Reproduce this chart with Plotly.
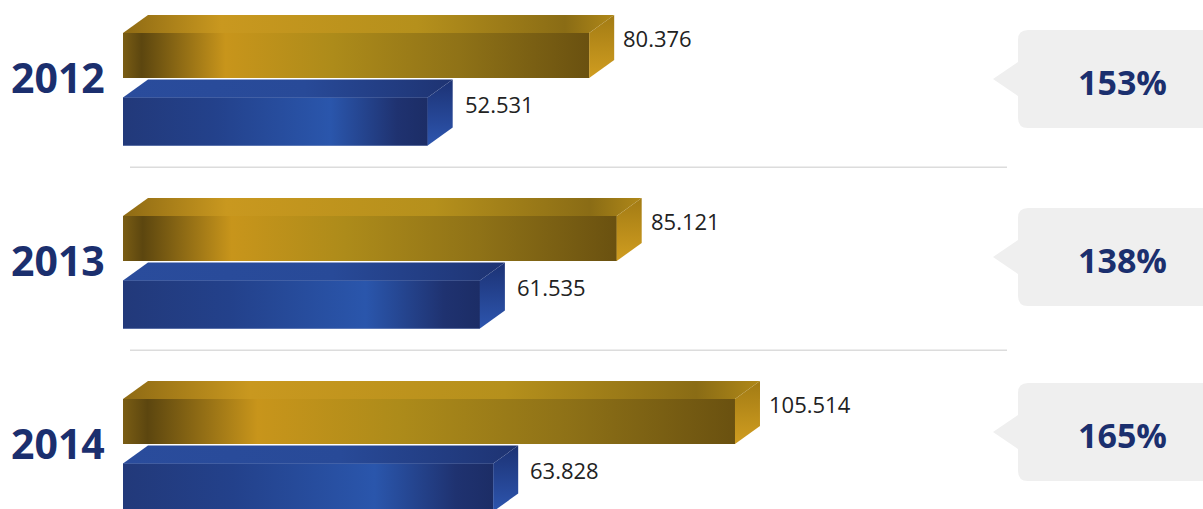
import plotly.graph_objects as go

# ---------------- data ----------------
years = ["2012", "2013", "2014"]
gold_values = [80.376, 85.121, 105.514]
blue_values = [52.531, 61.535, 63.828]
gold_labels = ["80.376", "85.121", "105.514"]
blue_labels = ["52.531", "61.535", "63.828"]
ratio_labels = ["153%", "138%", "165%"]

# ---------------- layout constants (pixels) ----------------
W, H = 1203, 509
X0 = 123.0      # pixel of value 0
KX = 5.8        # pixels per value unit
G0 = 55.5       # pixel y of first gold bar centre
GS = 183.0      # pixel spacing between groups
GOLD_W = 45 / GS
BLUE_W = 48 / GS
BLUE_OFF = 66 / GS
DX = 25 / KX    # 3D depth in value units
DY = 18 / GS    # 3D depth in group units
BOX_CY = [79, 257, 432]

NAVY = "#1b2f6e"

def px(xp):
    return xp / W

def py(yp):
    return 1 - yp / H

fig = go.Figure()

gold_front = [[0, "#7a5d14"], [0.04, "#5c460f"], [0.22, "#c8951b"], [0.45, "#ad8b1a"],
              [0.72, "#8f7217"], [1, "#6a5110"]]
gold_top = [[0, "#8e6a14"], [0.2, "#c9981f"], [0.6, "#b5901c"], [0.9, "#8a6c15"], [1, "#b08818"]]
gold_side = [[0, "#d09d20"], [1, "#a27b14"]]
blue_front = [[0, "#22397a"], [0.3, "#23418b"], [0.68, "#2a56ac"], [0.9, "#1f3270"], [1, "#1c2d66"]]
blue_top = [[0, "#2a4c9c"], [0.55, "#284a98"], [1, "#1e3372"]]
blue_side = [[0, "#2d55ae"], [1, "#1c3274"]]


def add_bar3d(values, yoff, width, front, top, side, solid, name):
    ys = [i + yoff for i in range(len(values))]
    fig.add_trace(go.Bar(x=values, y=ys, orientation="h", width=width, base=0,
                         marker=dict(color=solid, line=dict(width=0)), name=name,
                         showlegend=False, hoverinfo="skip"))
    for v, yc in zip(values, ys):
        yt = yc - width / 2
        yb = yc + width / 2
        # front gradient overlay
        fig.add_trace(go.Scatter(x=[0, v, v, 0, 0], y=[yt, yt, yb, yb, yt], fill="toself",
                                 mode="lines", line=dict(width=0),
                                 fillgradient=dict(type="horizontal", colorscale=front),
                                 showlegend=False, hoverinfo="skip"))
        # top face
        fig.add_trace(go.Scatter(x=[0, v, v + DX, DX, 0], y=[yt, yt, yt - DY, yt - DY, yt],
                                 fill="toself", mode="lines", line=dict(width=0),
                                 fillgradient=dict(type="horizontal", colorscale=top),
                                 showlegend=False, hoverinfo="skip"))
        # side face
        fig.add_trace(go.Scatter(x=[v, v + DX, v + DX, v, v], y=[yt, yt - DY, yb - DY, yb, yt],
                                 fill="toself", mode="lines", line=dict(width=0),
                                 fillgradient=dict(type="vertical", colorscale=side),
                                 showlegend=False, hoverinfo="skip"))


add_bar3d(gold_values, 0, GOLD_W, gold_front, gold_top, gold_side, "#a8861a", "gold")
add_bar3d(blue_values, BLUE_OFF, BLUE_W, blue_front, blue_top, blue_side, "#25469a", "blue")

annotations = []
for i, (v, lab) in enumerate(zip(gold_values, gold_labels)):
    annotations.append(dict(x=v + DX + 7 / KX, y=i - DY, xref="x", yref="y", text=lab,
                            showarrow=False, xanchor="left", yanchor="middle",
                            font=dict(family="Open Sans", size=22, color="#222222")))
for i, (v, lab) in enumerate(zip(blue_values, blue_labels)):
    annotations.append(dict(x=v + DX + 10 / KX, y=i + BLUE_OFF - DY, xref="x", yref="y", text=lab,
                            showarrow=False, xanchor="left", yanchor="middle",
                            font=dict(family="Open Sans", size=22, color="#222222")))
for i, yr in enumerate(years):
    annotations.append(dict(x=px(58), y=i + 0.12, xref="paper", yref="y", text="<b>%s</b>" % yr,
                            showarrow=False, xanchor="center", yanchor="middle",
                            font=dict(family="Open Sans", size=41, color=NAVY)))

shapes = []
# separators
for i in range(len(years) - 1):
    ysep = i + 0.61
    shapes.append(dict(type="line", xref="paper", yref="y", x0=px(130), x1=px(1007), y0=ysep, y1=ysep,
                       line=dict(color="#dcdcdc", width=1.5), layer="below"))

# ratio call-out boxes
for cy, lab in zip(BOX_CY, ratio_labels):
    x0, x1, y0, y1, r = 1018, 1225, cy - 49, cy + 49, 10
    path = ("M {a},{b} L {c},{b} L {c},{d} L {a},{d} Q {e},{d} {e},{f} L {e},{g} L {tip},{cy} L {e},{h} "
            "L {e},{i} Q {e},{b} {a},{b} Z")
    pts = dict(a=px(x0 + r), b=py(y0), c=px(x1), d=py(y1), e=px(x0), f=py(y1 - r),
               g=py(cy + 17), cy=py(cy), h=py(cy - 17), i=py(y0 + r), tip=px(993))
    path = path.format(**pts)
    shapes.append(dict(type="path", xref="paper", yref="paper", path=path,
                       fillcolor="#efefef", line=dict(width=0), layer="below"))
    annotations.append(dict(x=px(1122), y=py(cy + 3), xref="paper", yref="paper",
                            text="<b>%s</b>" % lab, showarrow=False, xanchor="center", yanchor="middle",
                            font=dict(family="Open Sans", size=34, color=NAVY)))

fig.update_layout(
    width=W, height=H,
    margin=dict(l=0, r=0, t=0, b=0),
    paper_bgcolor="white", plot_bgcolor="white",
    xaxis=dict(range=[-X0 / KX, (W - X0) / KX], visible=False, fixedrange=True),
    yaxis=dict(range=[(H - G0) / GS, -G0 / GS], visible=False, fixedrange=True),
    showlegend=False, barmode="overlay",
    shapes=shapes, annotations=annotations,
)

fig.write_html("out.html")
